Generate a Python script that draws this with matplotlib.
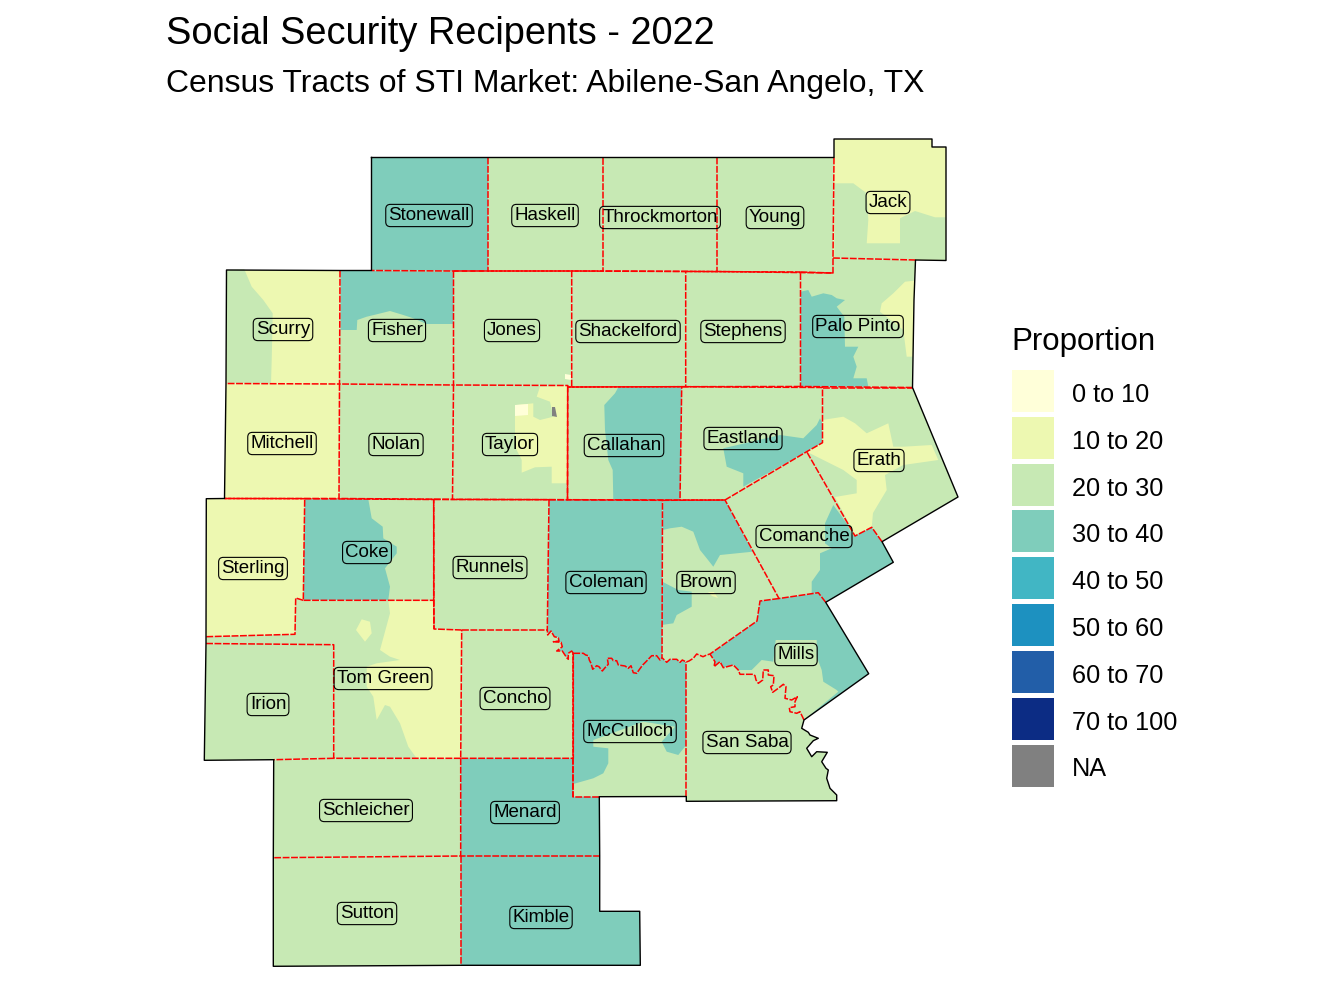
import matplotlib
matplotlib.use("Agg")
import matplotlib.pyplot as plt
from matplotlib.patches import Patch

plt.rcParams['font.family'] = ['Liberation Sans', 'DejaVu Sans']

# legend classes
class_labels = ["0 to 10", "10 to 20", "20 to 30", "30 to 40", "40 to 50",
                "50 to 60", "60 to 70", "70 to 100", "NA"]
class_colors = ["#FFFFD9", "#EDF8B1", "#C7E9B4", "#7FCDBB", "#41B6C4",
                "#1D91C0", "#225EA8", "#0C2C84", "#808080"]

# river bits shared by several counties
river_mccull = [(573.3, 653.3), (578.3, 653.3), (583.3, 653.3), (585.7, 655), (588.3, 655.7), (589.3, 660), (591, 663.3),
                (592.7, 669.3), (596.7, 665.7), (599, 666.7), (602.3, 671), (605, 667.7), (608.3, 664.3), (607.3, 658.3),
                (611.7, 658.3), (613.3, 660.7), (616.7, 660.7), (618.3, 665), (625, 666), (628.3, 668.3), (631, 665.7),
                (633.3, 672.7), (636.7, 673.3), (639, 670), (642.7, 665), (646, 661.7), (651.7, 655.7), (656.7, 655.7),
                (660, 660), (662, 657.7)]
river_saba = [(662, 657.7), (666.7, 662.3), (670, 659.3), (676.7, 659.3), (680, 662.3), (682.3, 660), (686.3, 662)]
river_brown = [(686.3, 662), (689, 661), (693.3, 658.3), (696.7, 654), (703, 656.7), (706.7, 655), (710, 654)]
river_mills = [(710, 654), (715, 661.7), (714, 666.7), (720, 661.7), (723.3, 667.7), (733.3, 665), (738.3, 670),
               (740, 674.3), (753.3, 674.3), (755, 675.7), (756, 680), (758.3, 683.3), (762.7, 680), (763.3, 670),
               (768.3, 670), (768.3, 675), (774, 675.7), (773.3, 685), (770.7, 686.7), (772.7, 692.3), (778.3, 688.3),
               (783.3, 684.3), (786, 686.7), (785, 698.3), (791.7, 700), (797.3, 696.7), (795, 701.7), (795, 706.7),
               (789.3, 707.7), (790, 711.7), (796.7, 713.3), (800, 711.7), (804, 720)]
river_concho = [(547.3, 630), (547.7, 635), (551, 631), (554.3, 636.7), (558.3, 637.7), (559, 641), (553.3, 641.7),
                (561, 642.3), (562.3, 646.7), (556.7, 651), (562.3, 651), (566.7, 657.7), (568.3, 659.3), (568.3, 653.3),
                (571.7, 651), (573.3, 653.3)]
saba_east = [(804, 720), (801.7, 728.3), (808.3, 732.3), (810, 735), (818.3, 738.3), (813.3, 740.7), (806.7, 748.3),
             (811.7, 756.7), (816.7, 751.7), (827.3, 752.3), (821.7, 761.7), (826, 768.3), (828.3, 770),
             (826.7, 778.3), (830, 788.3), (836.7, 795), (836.7, 800.7)]

# county outlines
stonewall = [(371.5, 157.5), (488, 157.5), (488, 271), (453.5, 271), (371.5, 270.5)]
haskell = [(488, 157.5), (602.7, 157.5), (602.7, 271), (488, 271)]
throckmorton = [(602.7, 157.5), (717, 157.5), (717, 271.5), (602.7, 271)]
young = [(717, 157.5), (834, 157.5), (833, 258), (833, 273), (717, 271.5)]
jack = [(834, 139), (932, 139), (932, 147), (946, 147), (946, 260.5), (915.5, 260), (833, 258), (834, 157.5)]
palo_pinto = [(800.5, 272), (833, 273), (833, 258), (915.5, 260), (914, 300), (912.5, 387.5), (800.5, 386.5)]
scurry = [(226.5, 270), (340, 270.5), (339.5, 384), (226, 383.5)]
fisher = [(340, 270.5), (371.5, 270.5), (453.5, 271), (453.5, 385), (339.5, 384)]
jones = [(453.5, 271), (571.7, 271), (571.7, 387), (567.7, 387), (567.7, 385.5), (453.5, 385)]
shackelford = [(571.7, 271), (685.7, 271.5), (685.7, 386.7), (571.7, 387)]
stephens = [(685.7, 271.5), (800.5, 272), (800.5, 386.5), (685.7, 386.7)]
mitchell = [(226, 383.5), (339.5, 384), (339, 498.5), (224.5, 498.5)]
nolan = [(339.5, 384), (453.5, 385), (452.5, 499.3), (339, 498.5)]
taylor = [(453.5, 385), (567.7, 385.5), (567.5, 499.7), (452.5, 499.3)]
callahan = [(567.7, 387), (681.7, 386.7), (680, 500), (567.5, 499.7)]
eastland = [(681.7, 386.7), (822.5, 387.5), (822.5, 442.7), (806.7, 451.7), (725, 500), (680, 500)]
erath = [(822.5, 387.5), (912.5, 387.5), (958, 497), (882, 541.7), (871.7, 527.3), (855, 536), (806.7, 451.7),
         (822.5, 442.7)]
comanche = [(725, 500), (806.7, 451.7), (855, 536), (871.7, 527.3), (882, 541.7), (893.3, 562.3), (825.7, 602.3),
            (818.3, 592.7), (779, 598.5)]
brown = [(662.5, 500.3), (725, 500), (779, 598.5), (760, 601), (757, 621)] + river_brown[::-1] \
    + river_saba[-2::-1]
mills = [(760, 601), (779, 598.5), (818.3, 592.7), (825.7, 602.3), (868.7, 673.7)] + river_mills[::-1] + [(757, 621)]
san_saba = river_brown + river_mills[1:] + saba_east[1:] + [(686.3, 801.3), (686.3, 796.5)]
mcculloch = river_mccull + river_saba[1:] + [(686.3, 796.5), (599.3, 796.7), (573.3, 796.7)]
coleman = [(549, 499.7), (662.5, 500.3)] + river_mccull[::-1] + river_concho[-2::-1]
concho = [(461.7, 630)] + river_concho + [(573.3, 758.3), (460.7, 758.3)]
runnels = [(433.7, 499.5), (549, 499.7), (547.3, 630), (461.7, 630), (434, 629)]
coke = [(304.7, 498.7), (433.7, 499.5), (433.7, 600.3), (303.3, 600.3)]
sterling = [(206.3, 498.7), (224.5, 498.5), (304.7, 498.7), (303.3, 600.3), (295.7, 598), (295, 634.3), (206, 636.7)]
tom_green = [(295.7, 598), (303.3, 600.3), (433.7, 600.3), (434, 629), (461.7, 630), (460.7, 758.3), (333.7, 758.3),
             (333.7, 644.7), (206, 643.5), (206, 636.7), (295, 634.3)]
irion = [(206, 643.5), (333.7, 644.7), (333.7, 758.3), (273.7, 759.7), (204.3, 760.3)]
schleicher = [(273.7, 759.7), (333.7, 758.3), (460.7, 758.3), (460.7, 856), (273.3, 857.7)]
sutton = [(273.3, 857.7), (460.7, 856), (460.7, 965.3), (273.3, 966.3)]
menard = [(460.7, 758.3), (573.3, 758.3), (573.3, 796.7), (599.3, 796.7), (599.7, 856), (460.7, 856)]
kimble = [(460.7, 856), (599.7, 856), (599.7, 911.3), (639.7, 911.3), (640.3, 965.3), (460.7, 965.3)]

counties = [stonewall, haskell, throckmorton, young, jack, palo_pinto, scurry, fisher, jones, shackelford, stephens,
            mitchell, nolan, taylor, callahan, eastland, erath, comanche, brown, mills, san_saba, mcculloch, coleman,
            concho, runnels, coke, sterling, tom_green, irion, schleicher, sutton, menard, kimble]
county_class = [3, 2, 2, 2, 1, 2, 1, 2, 2, 2, 2,
                1, 2, 2, 2, 2, 2, 2, 2, 3, 2, 3, 3,
                2, 2, 2, 1, 2, 2, 2, 2, 3, 3]

# tracts that differ from the base colour of their county
scurry_w = [(226.7, 270), (244.3, 269.3), (251.7, 286.7), (263.3, 300), (272.7, 313.3), (271.7, 360), (271, 383.3),
            (226.7, 383.3)]
fisher_n = [(340.7, 270.7), (453.3, 271.7), (453.3, 324), (426.7, 324), (413.3, 318.3), (403.3, 315), (390, 311),
            (376.7, 314.3), (366.7, 316.7), (357.3, 320), (356.7, 330), (340.7, 330)]
taylor_e = [(540, 386.7), (567.7, 385.7), (567.7, 483.3), (551.7, 483.3), (551.7, 466.7), (535, 467.3), (521.7, 472.7),
            (521.7, 460), (515, 446.7), (515, 416.7), (516.7, 405), (533.3, 403.3), (533.3, 416.7), (540, 420),
            (553.3, 416.7), (550, 401.7), (536.7, 396.7)]
taylor_w = [(515, 405), (528, 404), (528, 415), (515, 416)]
taylor_na = [(552, 407), (555, 407), (557, 417), (552, 416)]
jones_w = [(565, 374), (571, 375), (571, 380), (565, 379)]
jack_s = [(834.3, 183.3), (853.3, 183.3), (866.7, 193.3), (868.3, 220), (866.7, 243.3), (900, 243.3), (900, 218.3),
          (915, 211), (935, 217.3), (945.7, 217.3), (945.7, 260), (915.7, 259.3), (834.3, 258.3)]
palo_w = [(800.7, 291.7), (808.3, 290), (811.7, 296.7), (823.3, 293.3), (831.7, 295), (836.7, 298.3), (845, 300),
          (836.7, 306.7), (844.3, 316.7), (845, 346.7), (858.3, 346.7), (853.3, 356.7), (856.7, 366.7),
          (853.3, 378.3), (866.7, 378.3), (868.3, 386.7), (800.7, 386.7)]
palo_e = [(914.3, 280.7), (905, 281.7), (893.3, 293.3), (881.7, 303.3), (880, 311.7), (903.3, 330), (906.7, 356.7),
          (912.7, 356.7)]
callahan_e = [(618.3, 387.3), (681.7, 387.3), (680.3, 500), (613.3, 500), (612.7, 470), (608.3, 460), (605, 430),
              (604.3, 405), (615, 393.3)]
eastland_s = [(723.3, 448.3), (780, 435), (803.3, 438.3), (816.7, 425), (820, 418.3), (822.3, 423), (822.3, 442.7),
              (806.7, 451.7), (743.3, 486.7), (743.3, 473.3), (726.7, 466.7)]
erath_c = [(822.3, 420), (843.3, 416.7), (855, 423.3), (866.7, 433.3), (888.3, 423.3), (893.3, 446.7), (903.3, 446.7),
           (931.7, 445), (938.3, 460), (903.3, 465), (885, 475), (886.7, 490), (873, 513), (871.7, 527.3), (855, 535),
           (835, 497), (856.7, 493.3), (856.7, 480), (843.3, 470), (823.3, 460), (806.7, 451.7), (822.3, 442.7)]
comanche_e = [(825, 523.3), (833.3, 505), (846.7, 523.3), (852.3, 535), (855, 536), (871.7, 527.3), (881.7, 541.7),
              (893.3, 562.3), (825.7, 602.3), (818.3, 592.7), (811.7, 593.3), (811.7, 581.7), (820, 570), (820, 553.3),
              (831.7, 548.3), (825, 543.3)]
brown_n = [(663.3, 500), (725, 500), (752.7, 551.7), (720, 555), (713.3, 566.7), (706.7, 558.3), (700, 550),
           (693.3, 531.7), (681.7, 526.7), (670, 528.3), (662.7, 530)]
brown_w = [(662.3, 581.7), (678.3, 590), (691.7, 591.7), (691.7, 606.7), (676.7, 615), (673.3, 623.3), (661.7, 625)]
brown_y = [(708, 592), (714, 592), (718, 598), (712, 596)]
mills_s = [(738.3, 670), (751.7, 670), (761.7, 660), (773.3, 661.7), (775.7, 640), (816.7, 640), (816.7, 656.7),
           (821.7, 670), (823.3, 681.7), (836.7, 690), (838.3, 691.7)] + river_mills[:6:-1]
mcculloch_s = [(573.3, 784), (593.3, 778.3), (603.3, 773.3), (608.3, 763.3), (608.3, 748.3), (593.3, 746.7),
               (593.3, 740), (643.3, 721.7), (675, 726.7), (661.7, 741.7), (666.7, 751.7), (678.3, 755), (686.3, 745),
               (686.3, 796), (573.3, 796.7)]
coke_w = [(304.7, 499.3), (368.3, 499.3), (371.7, 518.3), (382.7, 526.7), (383.3, 538.3), (396.7, 546.7),
          (396.7, 553.3), (385, 568.3), (390, 586.7), (388.3, 600), (303.3, 600)]
tom_green_e = [(388.3, 600.7), (433.3, 600.7), (433.3, 629.3), (461, 630), (460, 758.3), (416.7, 758.3), (408.3, 746.7),
               (400, 723.3), (390, 706.7), (385, 705), (376.7, 720), (373.3, 696.7), (366.7, 686.7), (366.7, 666.7),
               (376.7, 663.3), (400, 660), (390, 656.7), (380, 650), (390, 613.3)]
tom_green_p = [(361.7, 619.3), (370, 621.7), (371.7, 633.3), (365, 641.7), (356, 630)]

tracts = [scurry_w, fisher_n, taylor_e, taylor_w, taylor_na, jones_w, jack_s, palo_w, palo_e, callahan_e, eastland_s,
          erath_c, comanche_e, brown_n, brown_w, brown_y, mills_s, mcculloch_s, coke_w, tom_green_e, tom_green_p]
tract_class = [2, 3, 1, 0, 8, 0, 2, 3, 1, 3, 3,
               1, 3, 3, 3, 1, 2, 2, 3, 1, 1]

outer_border = [(371.5, 157.5), (488, 157.5), (602.7, 157.5), (717, 157.5), (834, 157.5), (834, 139), (932, 139),
                (932, 147), (946, 147), (946, 260.5), (915.5, 260), (914, 300), (912.5, 387.5), (958, 497),
                (882, 541.7), (893.3, 562.3), (825.7, 602.3), (868.7, 673.7)] + saba_east + [
                (686.3, 801.3), (686.3, 796.5), (599.3, 796.7), (599.7, 856), (599.7, 911.3), (639.7, 911.3),
                (640.3, 965.3), (460.7, 965.3), (273.3, 966.3), (273.3, 857.7), (273.7, 759.7), (204.3, 760.3),
                (206, 643.5), (206, 636.7), (206.3, 498.7), (224.5, 498.5), (226, 383.5), (226.5, 270), (340, 270.5),
                (371.5, 270.5), (371.5, 157.5)]

label_names = ["Stonewall", "Haskell", "Throckmorton", "Young", "Jack", "Scurry", "Fisher", "Jones", "Shackelford",
               "Stephens", "Palo Pinto", "Mitchell", "Nolan", "Taylor", "Callahan", "Eastland", "Erath", "Sterling",
               "Coke", "Runnels", "Coleman", "Brown", "Comanche", "Mills", "Tom Green", "Concho", "McCulloch",
               "San Saba", "Irion", "Schleicher", "Menard", "Sutton", "Kimble"]
label_x = [429, 545, 660, 775, 888, 283, 397, 512, 628, 743, 858, 282, 396, 510, 624, 743, 879, 253, 367, 490, 606, 706,
           804, 796, 383, 515, 630, 747, 268, 366, 525, 367, 541]
label_y = [214, 214, 216, 216, 201, 328, 329, 329, 330, 330, 325, 442, 443, 443, 444, 437, 459, 567, 551, 566, 581, 581,
           535, 653, 677, 697, 730, 741, 703, 809, 811, 912, 916]


def new_edge_runs(poly, seen):
    # split a closed outline into runs of edges that nothing drew yet
    runs = []
    run = []
    closed = poly + poly[:1]
    for a, b in zip(closed[:-1], closed[1:]):
        key = frozenset((a, b))
        if key in seen:
            if run:
                runs.append(run)
            run = []
            continue
        seen.add(key)
        if not run:
            run = [a]
        run.append(b)
    if run:
        runs.append(run)
    return runs


fig = plt.figure(figsize=(13.44, 10.08), dpi=100)
ax = fig.add_axes([0, 0, 1, 1])
ax.set_xlim(0, 1344)
ax.set_ylim(1008, 0)
ax.axis("off")

for poly, c in zip(counties, county_class):
    xs, ys = zip(*poly)
    ax.fill(xs, ys, color=class_colors[c], lw=0, zorder=1)
for poly, c in zip(tracts, tract_class):
    xs, ys = zip(*poly)
    ax.fill(xs, ys, color=class_colors[c], lw=0, zorder=2)

# county lines, the outer one goes on top in black
seen_edges = {frozenset(e) for e in zip(outer_border[:-1], outer_border[1:])}
for poly in counties:
    for run in new_edge_runs(poly, seen_edges):
        xs, ys = zip(*run)
        ax.plot(xs, ys, color="#FF0000", lw=1.1, ls=(0, (4.5, 1)), zorder=4)
xs, ys = zip(*outer_border)
ax.plot(xs, ys, color="black", lw=1.0, zorder=5)

for name, x, y in zip(label_names, label_x, label_y):
    ax.text(x, y + 1.5, name, fontsize=13.5, color="black", ha="center", va="center", zorder=6,
            bbox=dict(boxstyle="round,pad=0.14,rounding_size=0.25", fc="none", ec="black", lw=0.8))

ax.text(166, 34, "Social Security Recipents - 2022", fontsize=27.35, ha="left", va="center")
ax.text(166, 84, "Census Tracts of STI Market: Abilene-San Angelo, TX", fontsize=22.95, ha="left", va="center")
ax.text(1011, 342, "Proportion", fontsize=22.5, ha="left", va="center")

handles = [Patch(facecolor=c, edgecolor="none") for c in class_colors]
leg = ax.legend(handles, class_labels, loc="upper left", bbox_to_anchor=(1012 / 1344, 1 - 370 / 1008),
                frameon=False, fontsize=18.2, handlelength=1.66, handleheight=2.18,
                labelspacing=0.19, handletextpad=0.71, borderaxespad=0, borderpad=0)
for t in leg.get_texts():
    t.set_y(-3)

fig.savefig("out.png", dpi=100)
